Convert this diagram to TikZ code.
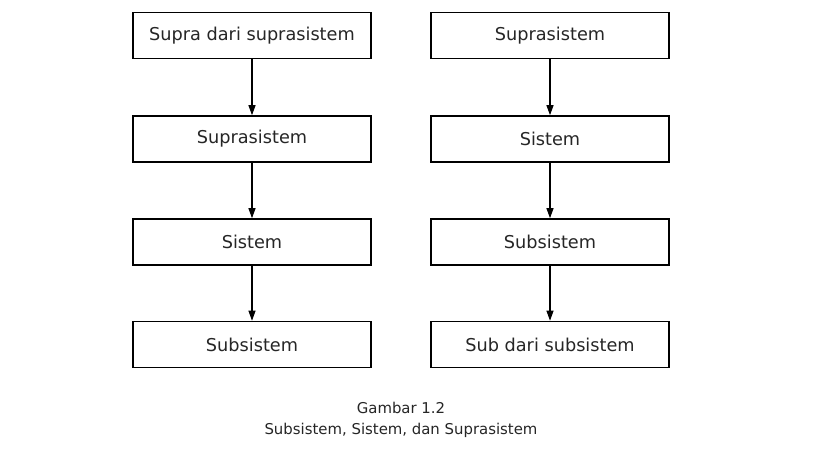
\documentclass[tikz,border=0pt]{standalone}
\usepackage{fontspec}
\setmainfont{DejaVu Sans}
\usetikzlibrary{arrows.meta}
\begin{document}
\begin{tikzpicture}[x=1pt,y=1pt,
  box/.style={draw=black,line width=1.6pt,minimum width=238pt,minimum height=46pt,inner sep=0pt,font=\fontsize{17.7}{21}\selectfont,text=black!85},
  arr/.style={-{Triangle[length=10pt,width=7pt]},line width=1.1pt},
  captext/.style={font=\fontsize{14.9}{18}\selectfont,text=black!85,align=center}]
\useasboundingbox (0,0) rectangle (833,473);
\fill[white] (0,0) rectangle (833,473);
\node[box] (a1) at (252,437.5) {Supra dari suprasistem};
\node[box] (a2) at (252,334) {Suprasistem};
\node[box] (a3) at (252,231) {Sistem};
\node[box] (a4) at (252,128.5) {Subsistem};
\node[box] (b1) at (550,437.5) {Suprasistem};
\node[box] (b2) at (550,334) {Sistem};
\node[box] (b3) at (550,231) {Subsistem};
\node[box] (b4) at (550,128.5) {Sub dari subsistem};
\draw[arr] (a1) -- (a2);
\draw[arr] (a2) -- (a3);
\draw[arr] (a3) -- (a4);
\draw[arr] (b1) -- (b2);
\draw[arr] (b2) -- (b3);
\draw[arr] (b3) -- (b4);
\node[captext] (c1) at (401,65) {Gambar 1.2};
\node[captext] (c2) at (401,43) {Subsistem, Sistem, dan Suprasistem};
\end{tikzpicture}
\end{document}
